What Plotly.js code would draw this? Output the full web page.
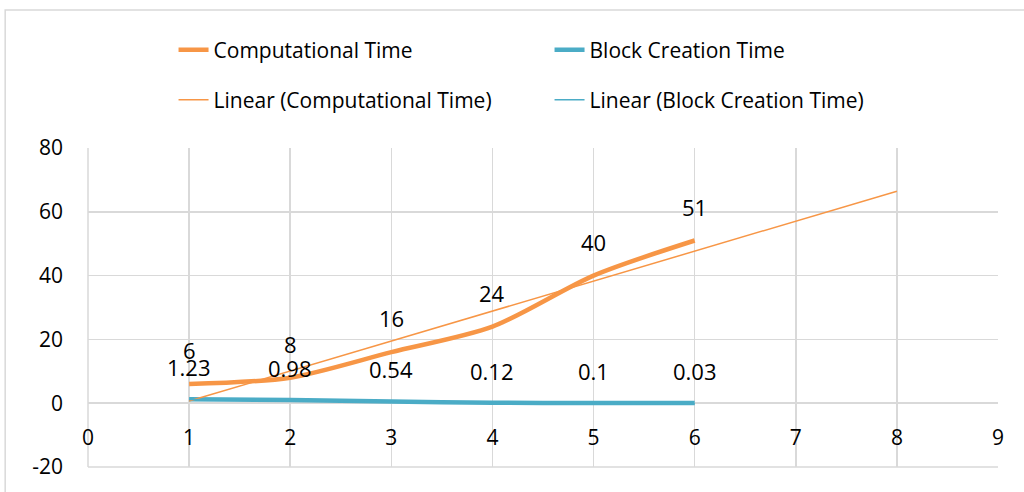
<!DOCTYPE html>
<html>
<head>
<meta charset="utf-8">
<script src="https://cdn.plot.ly/plotly-3.0.1.min.js"></script>
<style>html,body{margin:0;padding:0;background:#fff;}#chart{width:1024px;height:492px;}</style>
</head>
<body>
<div id="chart"></div>
<script>
const xValues = [1, 2, 3, 4, 5, 6];
const computationalTime = [6, 8, 16, 24, 40, 51];
const blockCreationTime = [1.23, 0.98, 0.54, 0.12, 0.1, 0.03];
const computationalLabels = ["6", "8", "16", "24", "40", "51"];
const blockLabels = ["1.23", "0.98", "0.54", "0.12", "0.1", "0.03"];
const xTicks = [0, 1, 2, 3, 4, 5, 6, 7, 8, 9];
const yTicks = [-20, 0, 20, 40, 60, 80];
const compForecastForward = 2;

function linearFit(xs, ys) {
  const n = xs.length;
  const mx = xs.reduce((a, b) => a + b, 0) / n;
  const my = ys.reduce((a, b) => a + b, 0) / n;
  let sxy = 0, sxx = 0;
  for (let i = 0; i < n; i++) { sxy += (xs[i] - mx) * (ys[i] - my); sxx += (xs[i] - mx) ** 2; }
  const slope = sxy / sxx;
  return { slope, intercept: my - slope * mx };
}
const compFit = linearFit(xValues, computationalTime);
const blockFit = linearFit(xValues, blockCreationTime);
const compTrendX = [xValues[0], xValues[xValues.length - 1] + compForecastForward];
const compTrendY = compTrendX.map(x => compFit.intercept + compFit.slope * x);
const blockTrendX = [xValues[0], xValues[xValues.length - 1]];
const blockTrendY = blockTrendX.map(x => blockFit.intercept + blockFit.slope * x);

const ORANGE = '#F79646';
const BLUE = '#4BACC6';
const FONT = '"Open Sans", Lato, sans-serif';

const traces = [
  { x: xValues, y: computationalTime, name: 'Computational Time', mode: 'lines',
    line: { color: ORANGE, width: 4.5, shape: 'spline', smoothing: 0.8 }, legend: 'legend' },
  { x: xValues, y: blockCreationTime, name: 'Block Creation Time', mode: 'lines',
    line: { color: BLUE, width: 4.5, shape: 'spline', smoothing: 0.8 }, legend: 'legend' },
  { x: compTrendX, y: compTrendY, name: 'Linear (Computational Time)', mode: 'lines',
    line: { color: ORANGE, width: 1.5 }, legend: 'legend2' },
  { x: blockTrendX, y: blockTrendY, name: 'Linear (Block Creation Time)', mode: 'lines',
    line: { color: BLUE, width: 1.5 }, legend: 'legend2' }
];

const annotations = [];
xValues.forEach((x, i) => {
  annotations.push({ x: x, y: computationalTime[i], text: computationalLabels[i], showarrow: false,
    yshift: 34, font: { family: FONT, size: 22, color: '#000' } });
  annotations.push({ x: x, y: blockCreationTime[i], text: blockLabels[i], showarrow: false,
    yshift: 32, font: { family: FONT, size: 22, color: '#000' } });
});

const legendCommon = {
  orientation: 'h', xanchor: 'left', yanchor: 'middle', bgcolor: 'rgba(0,0,0,0)',
  font: { family: FONT, size: 21, color: '#000' }, entrywidth: 331, entrywidthmode: 'pixels',
  traceorder: 'normal'
};

const layout = {
  width: 1024, height: 492,
  margin: { l: 88, r: 26, t: 148, b: 25, pad: 0 },
  paper_bgcolor: '#fff', plot_bgcolor: '#fff',
  font: { family: FONT, size: 21, color: '#000' },
  showlegend: true,
  legend: Object.assign({}, legendCommon, { x: 0.094, y: 1.307 }),
  legend2: Object.assign({}, legendCommon, { x: 0.094, y: 1.150 }),
  xaxis: {
    range: [0, 9], tickvals: xTicks, ticktext: xTicks.map(String),
    anchor: 'free', position: 0.2, showgrid: true, gridcolor: '#D9D9D9', gridwidth: 1.5,
    zeroline: false, showline: false, ticks: '', ticklabelstandoff: 20,
    tickfont: { family: FONT, size: 21, color: '#000' }
  },
  yaxis: {
    range: [-20, 80], tickvals: yTicks, ticktext: yTicks.map(String),
    showgrid: true, gridcolor: '#D9D9D9', gridwidth: 1.5, zeroline: false, showline: false,
    ticks: '', ticklabelstandoff: 24, tickfont: { family: FONT, size: 21, color: '#000' }
  },
  shapes: [
    { type: 'line', xref: 'paper', yref: 'paper', x0: 0, x1: 0, y0: 0, y1: 1, line: { color: '#D9D9D9', width: 1.5 }, layer: 'below' },
    { type: 'line', xref: 'paper', yref: 'paper', x0: 0, x1: 1, y0: 0, y1: 0, line: { color: '#D9D9D9', width: 1.5 }, layer: 'below' },
    { type: 'rect', xref: 'paper', yref: 'paper', x0: -0.091, x1: 1.2, y0: -0.3, y1: 1.4326, line: { color: '#D9D9D9', width: 1.5 }, fillcolor: 'rgba(0,0,0,0)' }
  ],
  annotations: annotations
};

Plotly.newPlot('chart', traces, layout, { displayModeBar: false, staticPlot: true });
</script>
</body>
</html>
